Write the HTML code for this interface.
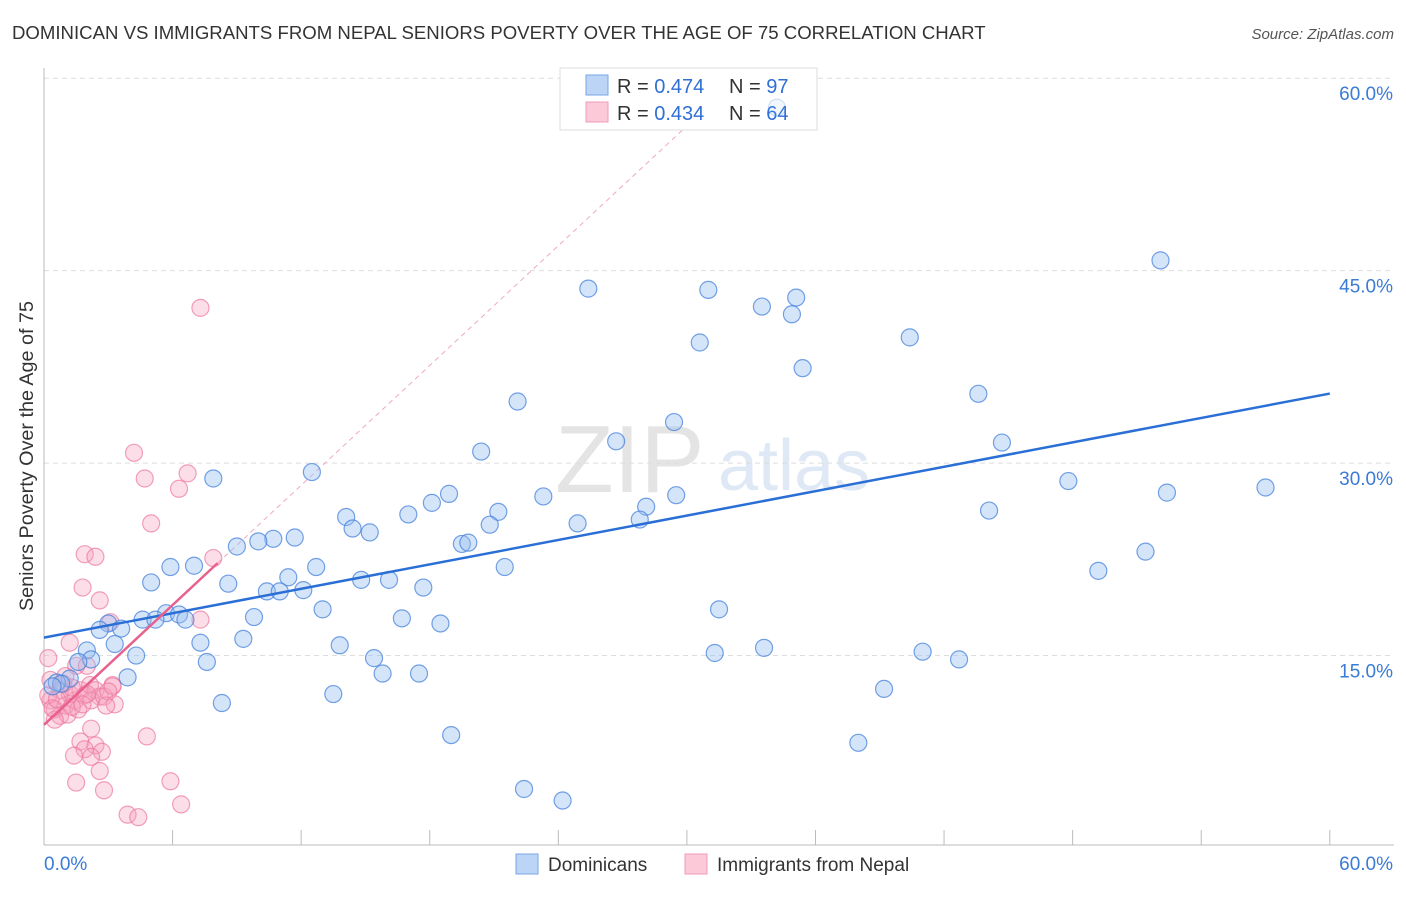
<!DOCTYPE html>
<html><head><meta charset="utf-8"><style>
body{margin:0;background:#fff;font-family:"Liberation Sans",sans-serif;}
svg text{font-family:"Liberation Sans",sans-serif;}
</style></head><body>
<svg id="chart" width="1406" height="892" xmlns="http://www.w3.org/2000/svg">
<text x="12" y="39" font-size="18.6" fill="#333">DOMINICAN VS IMMIGRANTS FROM NEPAL SENIORS POVERTY OVER THE AGE OF 75 CORRELATION CHART</text>
<text x="1394" y="39" font-size="15" fill="#555" font-style="italic" text-anchor="end">Source: ZipAtlas.com</text>
<text transform="translate(33,456) rotate(-90)" font-size="19.8" fill="#333" text-anchor="middle">Seniors Poverty Over the Age of 75</text>
<text x="555" y="492" font-size="96" fill="#e4e4e4" font-family="Liberation Serif">ZIP</text>
<text x="718" y="490" font-size="72" fill="#dfe8f5">atlas</text>
<g id="grid"></g><g id="axes"></g>
<g id="lines0"></g>
<g>
<rect x="560" y="68" width="257" height="62" fill="#fff" stroke="#ddd"/>
<rect x="586" y="75" width="22" height="20" fill="#bcd4f5" stroke="#7aa6e8"/>
<rect x="586" y="102" width="22" height="20" fill="#fbc9d8" stroke="#f09ab5"/>
<text x="617" y="93" font-size="20" fill="#333">R = <tspan fill="#2f6fd6">0.474</tspan></text>
<text x="729" y="93" font-size="20" fill="#333">N = <tspan fill="#2f6fd6">97</tspan></text>
<text x="617" y="120" font-size="20" fill="#333">R = <tspan fill="#2f6fd6">0.434</tspan></text>
<text x="729" y="120" font-size="20" fill="#333">N = <tspan fill="#2f6fd6">64</tspan></text>
</g>
<g id="pinkpts"></g><g id="bluepts"></g><g id="lines"></g>
<g>
<rect x="516" y="854" width="22" height="20" fill="#bcd4f5" stroke="#7aa6e8"/>
<text x="548" y="871" font-size="19" fill="#333">Dominicans</text>
<rect x="685" y="854" width="22" height="20" fill="#fbc9d8" stroke="#f09ab5"/>
<text x="717" y="871" font-size="19" fill="#333">Immigrants from Nepal</text>
</g>
</svg>
<script>
const blueX=[52.1,25.4,31.0,33.5,35.1,34.9,40.4,30.6,35.4,22.1,43.6,29.4,26.7,44.7,20.4,12.5,7.9,47.8,57.0,52.4,18.9,29.5,23.3,18.1,28.1,17.0,21.2,14.1,44.1,27.8,24.9,20.8,14.4,15.2,11.7,10.7,10.0,9.0,19.5,19.8,51.4,7.0,5.9,12.7,21.5,49.2,11.4,14.8,16.1,5.0,8.6,17.7,10.4,11.0,12.1,31.5,13.0,5.7,6.3,9.8,6.6,4.6,5.2,16.7,18.5,3.0,3.6,2.6,9.3,7.3,3.3,13.8,33.6,31.3,41.0,2.0,4.3,42.7,15.4,2.2,1.6,7.6,15.8,17.5,3.9,1.2,0.6,0.8,39.2,13.5,8.3,19.0,38.0,22.4,24.2,34.2,0.4];
const blueY=[45.8,43.6,43.5,42.2,42.9,41.6,39.8,39.4,37.4,34.8,35.4,33.2,31.7,31.6,30.9,29.3,28.8,28.6,28.1,27.7,27.6,27.5,27.4,26.9,26.6,26.0,26.2,25.8,26.3,25.6,25.3,25.2,24.9,24.6,24.2,24.1,23.9,23.5,23.7,23.8,23.1,22.0,21.9,21.9,21.9,21.6,21.1,20.9,20.9,20.7,20.6,20.3,20.0,20.0,20.1,18.6,18.6,18.3,18.2,18.0,17.8,17.8,17.8,17.9,17.5,17.5,17.1,17.0,16.3,16.0,15.9,15.8,15.6,15.2,15.3,15.4,15.0,14.7,14.8,14.7,14.5,14.5,13.6,13.6,13.3,13.2,12.9,12.8,12.4,12.0,11.3,8.8,8.2,4.6,3.7,57.7,12.6];
const pinkX=[7.3,4.2,6.7,4.7,6.3,5.0,1.9,2.4,7.9,1.8,2.6,7.3,3.1,1.2,0.2,1.5,2.0,0.75,0.3,0.5,1.0,1.2,1.45,1.7,1.9,2.15,2.4,2.6,3.2,0.75,1.1,0.5,0.2,1.3,1.6,2.2,2.8,3.2,2.2,4.8,1.7,2.4,1.9,2.7,1.4,2.2,2.6,1.5,2.8,5.9,6.4,3.9,4.4,0.3,0.9,1.3,0.4,3.0,3.3,2.0,1.0,0.6,1.8,2.9];
const pinkY=[42.1,30.8,29.2,28.8,28.0,25.3,22.9,22.7,22.6,20.3,19.3,17.8,17.6,16.0,14.8,14.2,14.2,12.3,11.5,10.8,11.1,12.0,11.5,12.3,11.9,12.7,12.3,11.8,12.7,10.3,10.4,10.0,11.9,12.5,10.8,11.5,11.8,12.6,9.3,8.7,8.3,8.0,7.7,7.5,7.2,7.1,6.0,5.1,4.5,5.2,3.4,2.6,2.4,13.1,12.8,11.0,10.9,12.2,11.2,12.0,13.4,11.6,11.2,11.1];
const yTicks=[15,30,45,60];
const tickLabels=["15.0%","30.0%","45.0%","60.0%"];
const blueLine=[16.4,0.317];
const pinkLine=[9.6,1.556];
const NS='http://www.w3.org/2000/svg';
const X=v=>44+v*21.43, Y=v=>848-v*12.83;
function mk(tag,attrs,parent){const e=document.createElementNS(NS,tag);for(const k in attrs)e.setAttribute(k,attrs[k]);parent.appendChild(e);return e;}
const grid=document.getElementById('grid'),axes=document.getElementById('axes');
yTicks.forEach((t,i)=>{
 const l=mk('line',{x1:44,x2:1394,y1:Y(t),y2:Y(t),stroke:'#ddd','stroke-dasharray':'5,4'},grid);
 
 
 const tx=mk('text',{x:1393,y:Y(t)+22,'font-size':19,fill:'#3a7bd5','text-anchor':'end'},axes);
 tx.textContent=tickLabels[i];
 
 
});
const ya=mk('line',{x1:44,x2:44,y1:68,y2:845,stroke:'#bbb'},axes);


const xa=mk('line',{x1:44,x2:1394,y1:845,y2:845,stroke:'#bbb'},axes);


for(let i=0;i<=10;i++){const t=mk('line',{x1:X(i*6),x2:X(i*6),y1:830,y2:845,stroke:'#bbb'},axes);
 
 }
[["0.0%",44,'start'],["60.0%",1393,'end']].forEach(a=>{const t=mk('text',{x:a[1],y:870,'font-size':19,fill:'#3a7bd5','text-anchor':a[2]},axes);t.textContent=a[0];
 
 });
const pg=document.getElementById('pinkpts'),bg=document.getElementById('bluepts');
pinkX.forEach((x,i)=>{const c=mk('circle',{cx:X(x),cy:Y(pinkY[i]),r:8.5,fill:'rgba(246,160,188,0.35)',stroke:'rgba(236,120,160,0.7)','stroke-width':1.2},pg);
 
 });
blueX.forEach((x,i)=>{const c=mk('circle',{cx:X(x),cy:Y(blueY[i]),r:8.5,fill:'rgba(150,190,240,0.4)',stroke:'rgba(70,130,220,0.75)','stroke-width':1.2},bg);
 if(blueY[i]>55){c.setAttribute('fill','rgba(150,190,240,0.12)');c.setAttribute('stroke','rgba(70,130,220,0.25)');}
 
 });
const lg=document.getElementById('lines'),lg0=document.getElementById('lines0');
const bl=mk('line',{x1:X(0),y1:Y(blueLine[0]),x2:X(60),y2:Y(blueLine[0]+60*blueLine[1]),stroke:'#2a6fd6','stroke-width':2.5},lg);


const pxEnd=8.1;
const pd=mk('line',{x1:X(pxEnd),y1:Y(pinkLine[0]+pxEnd*pinkLine[1]),x2:X(31),y2:Y(pinkLine[0]+31*pinkLine[1]),stroke:'#f0a8c0','stroke-width':1,'stroke-dasharray':'5,4'},lg0);


const pl=mk('line',{x1:X(0),y1:Y(pinkLine[0]),x2:X(pxEnd),y2:Y(pinkLine[0]+pxEnd*pinkLine[1]),stroke:'#e8608c','stroke-width':2.5},lg);


</script>
</body></html>
